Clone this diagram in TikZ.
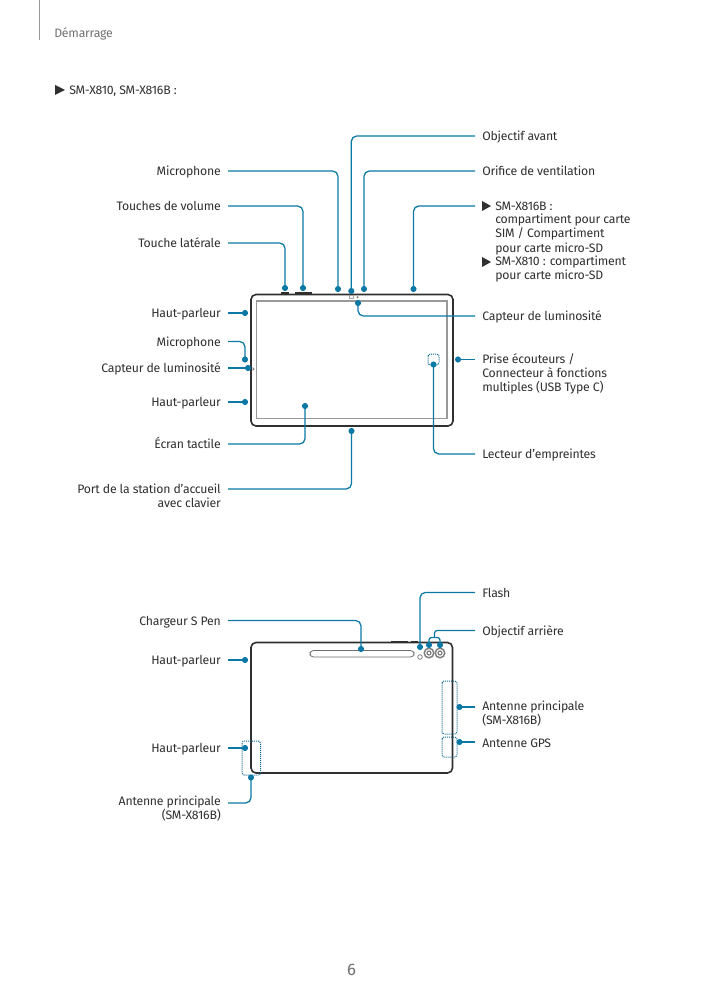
\documentclass[tikz,border=0pt]{standalone}
\usepackage{fontspec}
\setmainfont[LetterSpace=-1.7]{Fira Sans}
\usetikzlibrary{calc}
\definecolor{conn}{HTML}{0B78A6}
\definecolor{body}{HTML}{303030}
\definecolor{grayt}{HTML}{707070}
\tikzset{
 lab/.style={font=\fontsize{9.2pt}{10.6pt}\selectfont,text=body,inner xsep=5.25pt,inner ysep=0pt},
 rl/.style={lab,anchor=west,align=left,text height=8pt,text depth=1.2pt},
 ll/.style={lab,anchor=east,align=right,text height=8pt,text depth=1.2pt},
 rlm/.style={lab,anchor=north west,align=left},
 llm/.style={lab,anchor=north east,align=right},
 dot/.style={circle,fill=conn,inner sep=0pt,minimum size=4.6pt},
 wire/.style={draw=conn,line width=0.95pt,rounded corners=4pt},
 wiretight/.style={draw=conn,line width=0.95pt,rounded corners=2pt},
 hull/.style={draw=body,line width=1.2pt,rounded corners=3.75pt},
 screen/.style={draw=gray!80,line width=0.8pt},
 key/.style={fill=body},
 dots/.style={draw=conn!85!black,line width=0.75pt,dash pattern=on 0.75pt off 0.75pt,rounded corners=1.8pt},
}
\begin{document}
\begin{tikzpicture}[x=0.75pt,y=-0.75pt]
\useasboundingbox (0,0) rectangle (703,994);
\fill[white] (0,0) rectangle (703,994);
% header
\draw[gray!80,line width=0.7pt] (39.5,0) -- (39.5,40);
\node[anchor=west,inner sep=0pt,font=\fontsize{9.2pt}{10.5pt}\selectfont,text=grayt,text height=8pt,text depth=1.2pt] (hdr) at (54,33) {Démarrage};
\fill[body] (55,85) -- (65,90) -- (55,95) -- cycle;
\node[anchor=west,inner sep=0pt,font=\fontsize{9.2pt}{10.5pt}\selectfont,text=body,text height=8pt,text depth=1.2pt] (model) at (69,90) {SM-X810, SM-X816B :};
\node[inner sep=0pt,font=\fontsize{12.5pt}{14pt}\selectfont,text=grayt] (pg) at (351.5,969.5) {6};

% tablet 1
\fill[key] (281,292.5) rectangle (289,295);
\fill[key] (295,292.5) rectangle (312,295);
\draw[hull] (251,294.5) rectangle (453,426);
\draw[screen] (256.5,301) rectangle (447,418.5);
\draw[gray!70,line width=0.5pt] (349.7,295.2) rectangle (353,298.6);
\fill[gray] (357.5,297.2) circle (1.2);
\fill[gray] (254.5,369) -- (252.5,367) -- (252.5,371) -- cycle;
\draw[dots] (428,354) rectangle (439,365);

\node[dot] (d1) at (285,288) {};
\node[dot] (d2) at (303,288) {};
\node[dot] (d3) at (338,289) {};
\node[dot] (d4) at (351.3,291) {};
\node[dot] (d5) at (364,289) {};
\node[dot] (d6) at (413.5,289) {};
\node[dot] (d7) at (358,303) {};
\node[dot] (d8) at (245,313) {};
\node[dot] (d9) at (245,359.5) {};
\node[dot] (d10) at (248,368) {};
\node[dot] (d11) at (245,402) {};
\node[dot] (d12) at (305,406) {};
\node[dot] (d13) at (351.5,431) {};
\node[dot] (d14) at (458,359.5) {};
\node[dot] (d15) at (433.5,364.5) {};

\node[ll] (l1) at (228,243) {Touche latérale};
\node[ll] (l2) at (228,206) {Touches de volume};
\node[ll] (l3) at (228,171) {Microphone};
\node[rl] (r4) at (475,136) {Objectif avant};
\node[rl] (r5) at (475,171) {Orifice de ventilation};
\node[rl,inner xsep=0pt] (r6) at (495,206) {SM-X816B :};
\node[rlm,inner xsep=0pt] (r6b) at (495,214) {compartiment pour carte\\SIM / Compartiment\\pour carte micro-SD};
\node[rlm,inner xsep=0pt] (r6c) at (495,256) {SM-X810 : compartiment\\pour carte micro-SD};
\fill[body] (482,201) -- (491,206) -- (482,211) -- cycle;
\fill[body] (482,257) -- (491,262) -- (482,267) -- cycle;
\coordinate (r6s) at (475,206);
\node[rl] (r7) at (475,316) {Capteur de luminosité};
\node[ll] (l8) at (228,313) {Haut-parleur};
\node[ll] (l9) at (228,341.5) {Microphone};
\node[ll] (l10) at (228,368) {Capteur de luminosité};
\node[ll] (l11) at (228,402) {Haut-parleur};
\node[ll] (l12) at (228,444) {Écran tactile};
\node[llm] (l13) at (228,483.5) {Port de la station d’accueil\\avec clavier};
\node[rlm] (r14) at (475,353) {Prise écouteurs /\\Connecteur à fonctions\\multiples (USB Type C)};
\node[rl] (r15) at (475,454) {Lecteur d’empreintes};

\draw[wire] (l1.east) -| (d1.center);
\draw[wire] (l2.east) -| (d2.center);
\draw[wire] (l3.east) -| (d3.center);
\draw[wire] (r4.west) -| (d4.center);
\draw[wire] (r5.west) -| (d5.center);
\draw[wire] (r6s) -| (d6.center);
\draw[wire] (r7.west) -| (d7.center);
\draw[wire] (l8.east) -- (d8.center);
\draw[wire] (l9.east) -| (d9.center);
\draw[wire] (l10.east) -- (d10.center);
\draw[wire] (l11.east) -- (d11.center);
\draw[wire] (l12.east) -| (d12.center);
\coordinate (l13s) at (228,489);
\draw[wire] (l13s) -| (d13.center);
\coordinate (r14s) at (475,359.5);
\draw[wire] (r14s) -- (d14.center);
\draw[wire] (r15.west) -| (d15.center);

% tablet 2
\fill[key] (391,640.5) rectangle (408,643);
\fill[key] (411,640.5) rectangle (418,643);
\draw[hull] (251,642.5) rectangle (452.5,773);
\draw[body!70,line width=0.6pt,rounded corners=2.6pt] (310,650.5) rectangle (414,657);
\draw[gray,line width=0.6pt] (420,657) circle (2.3);
\foreach \cx/\n in {429/a,440/b}{
 \draw[gray,line width=1.1pt] (\cx,653) circle (4.8);
 \draw[gray,line width=0.9pt] (\cx,653) circle (2);
}
\draw[dots] (242,741) rectangle (260.5,775);
\draw[dots] (442,681) rectangle (457,734);
\draw[dots] (442,737) rectangle (457,757);

\node[dot] (e1) at (420,647) {};
\node[dot] (e2) at (429,645) {};
\node[dot] (e3) at (440,645) {};
\node[dot] (e4) at (361,649) {};
\node[dot] (e5) at (245,660) {};
\node[dot] (e6) at (245,748) {};
\node[dot] (e7) at (251,777.5) {};
\node[dot] (e8) at (459.5,707) {};
\node[dot] (e9) at (459.5,742) {};

\node[rl] (s1) at (475,592.5) {Flash};
\node[rl] (s2) at (475,630.5) {Objectif arrière};
\node[ll] (s4) at (228,620.5) {Chargeur S Pen};
\node[ll] (s5) at (228,660) {Haut-parleur};
\node[ll] (s6) at (228,748) {Haut-parleur};
\node[llm] (s7) at (228,796) {Antenne principale\\(SM-X816B)};
\node[rlm] (s8) at (475,700.5) {Antenne principale\\(SM-X816B)};
\node[rl] (s9) at (475,743) {Antenne GPS};

\draw[wire] (s1.west) -| (e1.center);
\coordinate (j) at (434.5,637.5);
\draw[wiretight] (s2.west) -| (j);
\draw[wiretight] (e2.center) |- (e3.center |- j) -- (e3.center);
\draw[wire] (s4.east) -| (e4.center);
\draw[wire] (s5.east) -- (e5.center);
\draw[wire] (s6.east) -- (e6.center);
\coordinate (s7s) at (228,803);
\draw[wire] (s7s) -| (e7.center);
\coordinate (s8s) at (475,707);
\draw[wire] (s8s) -- (e8.center);
\coordinate (s9s) at (475,742);
\draw[wire] (s9s) -- (e9.center);
\end{tikzpicture}
\end{document}
